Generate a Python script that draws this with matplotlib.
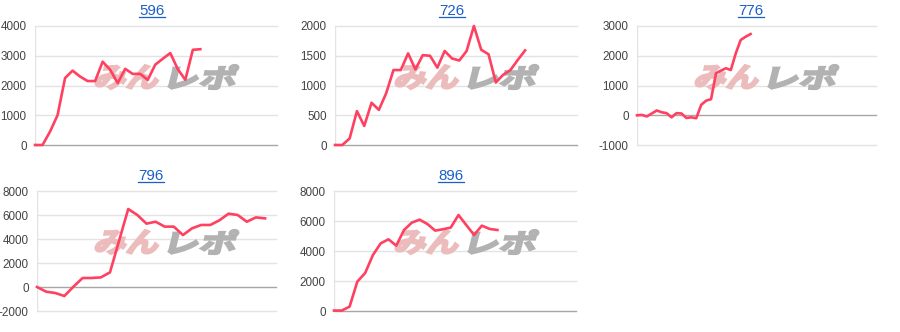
import matplotlib
matplotlib.use("Agg")
import matplotlib.pyplot as plt
from matplotlib.textpath import TextPath
from matplotlib.font_manager import FontProperties
from matplotlib.patches import PathPatch
from matplotlib.lines import Line2D
import matplotlib.transforms as mtransforms
import numpy as np

# ---- data ----
titles = ["596", "726", "776", "796", "896"]
s596 = [0, 0, 450, 1000, 2250, 2500, 2300, 2150, 2150, 2800, 2530, 2080, 2560,
        2390, 2390, 2190, 2700, 2900, 3090, 2550, 2190, 3200, 3220]
s726 = [0, 0, 110, 570, 320, 710, 590, 870, 1260, 1260, 1540, 1270, 1510, 1500,
        1300, 1580, 1455, 1420, 1580, 2000, 1600, 1525, 1050, 1180, 1260, 1430, 1590]
s776 = [0, 10, -40, 60, 160, 100, 70, -70, 70, 60, -90, -70, -100, 350, 490, 540,
        1410, 1500, 1580, 1520, 2080, 2530, 2640, 2730]
s796 = [0, -390, -500, -750, 30, 750, 750, 800, 1220, 3860, 6500, 6000, 5280, 5440,
        5030, 5030, 4330, 4890, 5170, 5170, 5560, 6110, 6000, 5440, 5800, 5720]
s896 = [30, 30, 290, 1960, 2530, 3730, 4510, 4780, 4360, 5400, 5890, 6090, 5800,
        5360, 5450, 5560, 6400, 5730, 5070, 5690, 5470, 5400]
series = [s596, s726, s776, s796, s896]
yticks = [
    [0, 1000, 2000, 3000, 4000],
    [0, 500, 1000, 1500, 2000],
    [-1000, 0, 1000, 2000, 3000],
    [-2000, 0, 2000, 4000, 6000, 8000],
    [0, 2000, 4000, 6000, 8000],
]
xmax = [32.2, 33.1, 48.4, 26.2, 31.1]

# ---- layout (pixels) ----
W, H = 900, 332
boxes = [  # left, right, top, bottom
    (35, 277, 26, 145),
    (335, 577, 26, 145),
    (637, 876, 26, 145),
    (37, 276, 191, 311),
    (334, 576, 191, 311),
]
cells = [(0, 0), (300, 0), (600, 0), (0, 165), (300, 165)]
title_x = [152, 452, 751, 151, 451]

LINE = "#ff4060"
fig = plt.figure(figsize=(W / 100, H / 100), dpi=100)
fig.patch.set_facecolor("white")

jp = FontProperties(family="Noto Sans CJK JP", weight="bold")


def to_fig(px, py):
    return px / W, 1 - py / H


def watermark(ax, s, x0, x1, ytop, ybot, color, skew=14):
    tp = TextPath((0, 0), s, size=100, prop=jp)
    ext = tp.get_extents()
    hh = ybot - ytop
    ww = (x1 - x0) - hh * np.tan(np.radians(skew))
    tr = (mtransforms.Affine2D()
          .translate(-ext.x0, -ext.y0)
          .scale(ww / ext.width, hh / ext.height)
          .skew_deg(skew, 0)
          .translate(x0, H - ybot)
          .scale(1 / W, 1 / H)) + fig.transFigure
    p = PathPatch(tp, transform=tr, facecolor=color, edgecolor=color, lw=1.6,
                  joinstyle="miter", zorder=1, clip_on=False)
    ax.add_artist(p)


axes = []
for i, (l, r, t, b) in enumerate(boxes):
    ax = fig.add_axes([l / W, 1 - b / H, (r - l) / W, (b - t) / H])
    ax.set_facecolor("none")
    y = series[i]
    x = np.arange(len(y))
    ax.plot(x, y, color=LINE, lw=1.9, solid_joinstyle="round", zorder=3, clip_on=False)
    ax.set_xlim(0, xmax[i])
    ax.set_ylim(yticks[i][0], yticks[i][-1])
    ax.set_yticks(yticks[i])
    ax.set_yticklabels([str(v) for v in yticks[i]])
    ax.set_xticks([])
    for sp in ax.spines.values():
        sp.set_visible(False)
    for v in yticks[i]:
        if v == 0:
            ax.axhline(v, color="#a6a6a6", lw=1.0, zorder=2, clip_on=False)
        else:
            ax.axhline(v, color="#e3e3e3", lw=1.0, zorder=0, clip_on=False)
    ax.axvline(0, color="#e3e3e3", lw=1.0, zorder=0)
    ax.tick_params(axis="y", length=0, pad=6, labelsize=8.4, labelcolor="#444444")
    for lab in ax.get_yticklabels():
        lab.set_fontfamily("Liberation Sans")
    ox, oy = cells[i]
    watermark(ax, "みん", ox + 94, ox + 162, oy + 65, oy + 89, "#ecbcbc")
    watermark(ax, "レポ", ox + 168, ox + 239, oy + 65, oy + 89, "#b2b2b2")
    axes.append(ax)

title_texts = []
for i, tt in enumerate(titles):
    ox, oy = cells[i]
    fx, fy = to_fig(title_x[i], oy + 15)
    t = fig.text(fx, fy, tt, ha="center", va="baseline", color="#1a5fc8",
                 fontsize=10.8, family="Liberation Sans")
    title_texts.append((t, oy))

fig.canvas.draw()
r = fig.canvas.get_renderer()
for t, oy in title_texts:
    bb = t.get_window_extent(renderer=r)
    yy = 1 - (oy + 16.5) / H
    fig.add_artist(Line2D([bb.x0 / W, bb.x1 / W], [yy, yy], transform=fig.transFigure,
                          color="#1a5fc8", lw=0.9))

fig.savefig("out.png", dpi=100)
